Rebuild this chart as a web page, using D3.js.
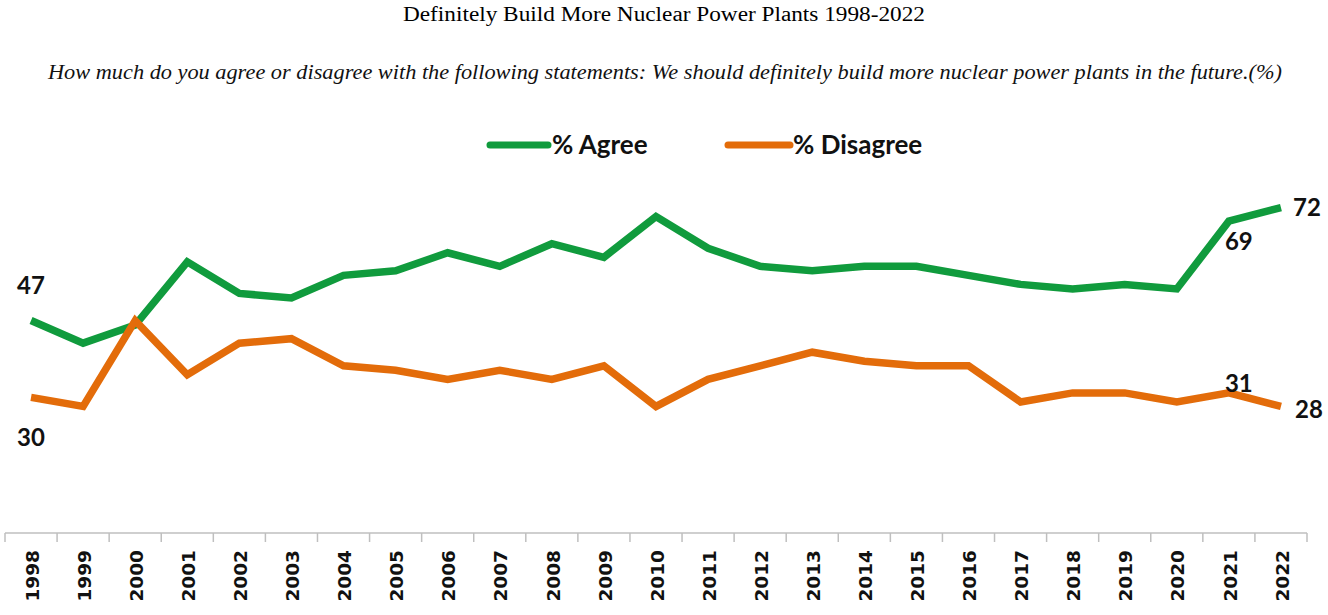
<!DOCTYPE html>
<html>
<head>
<meta charset="utf-8">
<script src="https://cdn.jsdelivr.net/npm/d3@7"></script>
<style>
  body { margin: 0; background: #fff; }
  svg { display: block; }
</style>
</head>
<body>
<svg id="chart" width="1328" height="615"></svg>
<script>
// survey years
const years = ["1998","1999","2000","2001","2002","2003","2004","2005","2006","2007","2008","2009",
               "2010","2011","2012","2013","2014","2015","2016","2017","2018","2019","2020","2021","2022"];
// % agree / % disagree
const agree    = [47,42,46,60,53,52,57,58,62,59,64,61,70,63,59,58,59,59,57,55,54,55,54,69,72];
const disagree = [30,28,47,35,42,43,37,36,34,36,34,37,28,34,37,40,38,37,37,29,31,31,29,31,28];
const seriesNames = ["% Agree", "% Disagree"];

const title = "Definitely Build More Nuclear Power Plants 1998-2022";
const subtitle = "How much do you agree or disagree with the following statements: We should definitely build more nuclear power plants in the future.(%)";

const colors = ["#109b3d", "#e36c0a"];

const svg = d3.select("#chart");

const x = d3.scaleBand().domain(years).range([5, 1307]);
const y = d3.scaleLinear().domain([0, 100]).range([533, 81]);
const cx = d => x(d) + x.bandwidth() / 2;

// titles
svg.append("text")
  .attr("x", 664).attr("y", 21)
  .attr("text-anchor", "middle")
  .style("font-family", "'Liberation Serif', serif")
  .style("font-size", "20px")
  .attr("textLength", 522).attr("lengthAdjust", "spacingAndGlyphs")
  .text(title);

svg.append("text")
  .attr("x", 665).attr("y", 79)
  .attr("text-anchor", "middle")
  .style("font-family", "'Liberation Serif', serif")
  .style("font-style", "italic")
  .style("font-size", "20px")
  .attr("fill", "#111")
  .attr("textLength", 1234).attr("lengthAdjust", "spacingAndGlyphs")
  .text(subtitle);

// legend
const legend = [
  {name: seriesNames[0], color: colors[0], x1: 490, x2: 548, tx: 552},
  {name: seriesNames[1], color: colors[1], x1: 728, x2: 790, tx: 793}
];
const lg = svg.append("g");
legend.forEach(l => {
  lg.append("line")
    .attr("x1", l.x1).attr("x2", l.x2).attr("y1", 145).attr("y2", 145)
    .attr("stroke", l.color).attr("stroke-width", 7).attr("stroke-linecap", "round");
  lg.append("text")
    .attr("x", l.tx).attr("y", 154)
    .style("font-family", "Lato, sans-serif").style("font-weight", "bold")
    .style("font-size", "26px").attr("fill", "#111")
    .text(l.name);
});

// x axis
const axisG = svg.append("g").attr("transform", "translate(0,533)");
axisG.call(d3.axisBottom(x).tickSize(0).tickPadding(0))
  .call(g => g.select(".domain").remove());
axisG.selectAll(".tick text")
  .attr("transform", "rotate(-90)")
  .attr("x", -17).attr("y", 1).attr("dy", "0.36em")
  .attr("text-anchor", "end")
  .style("font-family", "'DejaVu Sans', sans-serif")
  .style("font-weight", "bold")
  .style("font-size", "18.5px")
  .attr("fill", "#111");
axisG.append("line")
  .attr("x1", x.range()[0]).attr("x2", x.range()[1])
  .attr("stroke", "#bfbfbf").attr("stroke-width", 1.5);
const bounds = years.map(d => x(d)).concat([x.range()[1]]);
axisG.selectAll(".bound").data(bounds).enter().append("line")
  .attr("class", "bound")
  .attr("x1", d => d).attr("x2", d => d).attr("y1", 0).attr("y2", 9)
  .attr("stroke", "#bfbfbf").attr("stroke-width", 1.5);

// lines
const line = d3.line().x((d, i) => cx(years[i])).y(d => y(d));
[agree, disagree].forEach((vals, k) => {
  svg.append("path")
    .datum(vals)
    .attr("d", line)
    .attr("fill", "none")
    .attr("stroke", colors[k])
    .attr("stroke-width", 7.5)
    .attr("stroke-linejoin", "miter");
});

// data labels (offsets from the point)
const labels = [
  {series: agree,    i: 0,  dx: 0,  dy: -35},
  {series: disagree, i: 0,  dx: 0,  dy: 40},
  {series: agree,    i: 23, dx: 10, dy: 20},
  {series: agree,    i: 24, dx: 26, dy: 0},
  {series: disagree, i: 23, dx: 10, dy: -10},
  {series: disagree, i: 24, dx: 28, dy: 3}
];
svg.selectAll(".dlabel").data(labels).enter().append("text")
  .attr("class", "dlabel")
  .attr("x", d => cx(years[d.i]) + d.dx)
  .attr("y", d => y(d.series[d.i]) + d.dy)
  .attr("dy", "0.36em")
  .attr("text-anchor", "middle")
  .style("font-family", "Lato, sans-serif").style("font-weight", "bold")
  .style("font-size", "24px").attr("fill", "#111")
  .text(d => d.series[d.i]);
</script>
</body>
</html>
